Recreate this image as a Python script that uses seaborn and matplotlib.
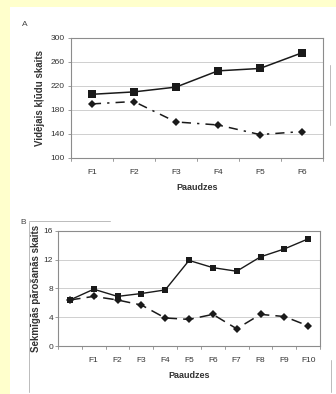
import matplotlib
matplotlib.use("Agg")
import matplotlib.pyplot as plt
import seaborn as sns
from matplotlib.lines import Line2D

# A panel data
gen_a = ["F1", "F2", "F3", "F4", "F5", "F6"]
a_squares = [206, 210, 218, 245, 249, 275]
a_diamonds = [190, 194, 160, 155, 139, 144]
a_yticks = [100, 140, 180, 220, 260, 300]

# B panel data
gen_b = [" ", "F1", "F2", "F3", "F4", "F5", "F6", "F7", "F8", "F9", "F10"]
b_squares = [6.4, 7.9, 6.9, 7.3, 7.8, 11.9, 10.9, 10.4, 12.4, 13.5, 14.9]
b_diamonds = [6.4, 6.9, 6.4, 5.7, 3.9, 3.7, 4.4, 2.4, 4.4, 4.1, 2.8]
b_yticks = [0, 4, 8, 12, 16]

sns.set_style("white")
plt.rcParams["font.family"] = ["Liberation Sans", "DejaVu Sans"]

fig = plt.figure(figsize=(3.36, 3.94), dpi=100)
fig.patch.set_facecolor("#ffffcc")
# white scanned page
fig.patches.append(plt.Rectangle((10 / 336, 0), 1, 1 - 7 / 394, transform=fig.transFigure,
                                 facecolor="white", edgecolor="none", zorder=-1))

ink = "#1a1a1a"
frame = "#8c8c8c"


def style_axis(ax, yticks, ylabel, ypad):
    ax.set_facecolor("white")
    for s in ax.spines.values():
        s.set_color(frame)
        s.set_linewidth(0.8)
    ax.set_ylim(yticks[0], yticks[-1])
    ax.set_yticks(yticks)
    ax.yaxis.grid(True, color="#c8c8c8", linewidth=0.6)
    ax.xaxis.grid(False)
    ax.tick_params(axis="y", labelsize=6, labelcolor="#333333", color=frame,
                   length=2.5, width=0.6, direction="out", pad=ypad, left=True)
    ax.tick_params(axis="x", labelsize=6, labelcolor="#333333", length=0, pad=8)
    ax.set_ylabel(ylabel, fontsize=7, fontweight="bold", color="#333333", labelpad=4)
    ax.set_xlabel("Paaudzes", fontsize=6.5, fontweight="bold", color="#333333", labelpad=5)


# ---- A ----
ax1 = fig.add_axes([0.211, 0.599, 0.75, 0.305])
sns.lineplot(x=gen_a, y=a_squares, ax=ax1, color=ink, linewidth=1.1, marker="s",
             markersize=6, markeredgewidth=0, sort=False)
sns.lineplot(x=gen_a, y=a_diamonds, ax=ax1, color=ink, linewidth=1.1, marker="D",
             markersize=4, markeredgewidth=0, sort=False, linestyle=(0, (6, 4, 1.5, 4)))
ax1.set_xlim(-0.5, len(gen_a) - 0.5)
style_axis(ax1, a_yticks, "Vidējais kļūdu skaits", 2)
for i in range(len(gen_a) + 1):
    ax1.plot([i - 0.5, i - 0.5], [0, -0.025], transform=ax1.get_xaxis_transform(),
             color=frame, lw=0.6, clip_on=False)

# ---- B ----
ax2 = fig.add_axes([0.1726, 0.1218, 0.78, 0.292])
sns.lineplot(x=gen_b, y=b_squares, ax=ax2, color=ink, linewidth=1.0, marker="s",
             markersize=4, markeredgewidth=0, sort=False)
sns.lineplot(x=gen_b, y=b_diamonds, ax=ax2, color=ink, linewidth=1.1, marker="D",
             markersize=4, markeredgewidth=0, sort=False, linestyle=(0, (7, 4)))
ax2.set_xlim(-0.5, len(gen_b) - 0.5)
style_axis(ax2, b_yticks, "Sekmīgās pārošanās skaits", 1)
ax2.yaxis.labelpad = 2
for i in range(len(gen_b) + 1):
    ax2.plot([i - 0.5, i - 0.5], [0, -0.03], transform=ax2.get_xaxis_transform(),
             color=frame, lw=0.6, clip_on=False)

# panel letters and scan artefacts
fig.text(22 / 336, 1 - 25 / 394, "A", fontsize=6, color="#444444", va="center")
fig.text(20 / 336, 1 - 222 / 394, "B", fontsize=6, color="#444444", va="center")
fig.add_artist(Line2D([330 / 336, 330 / 336], [1 - 65 / 394, 1 - 125 / 394],
                      color="#bbbbbb", lw=0.7))
fig.add_artist(Line2D([29 / 336, 29 / 336], [1 - 222 / 394, 1 - 392 / 394],
                      color="#bbbbbb", lw=0.7))
fig.add_artist(Line2D([29 / 336, 110 / 336], [1 - 221 / 394, 1 - 221 / 394],
                      color="#bbbbbb", lw=0.7))
fig.add_artist(Line2D([331 / 336, 331 / 336], [1 - 360 / 394, 1 - 392 / 394],
                      color="#bbbbbb", lw=0.7))

fig.savefig("out.png", dpi=100, facecolor=fig.get_facecolor())
